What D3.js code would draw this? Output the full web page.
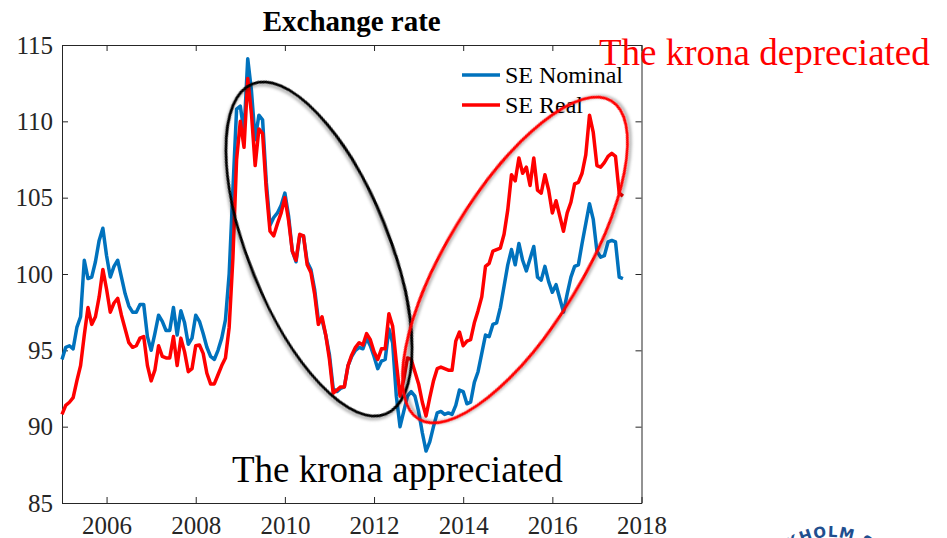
<!DOCTYPE html>
<html>
<head>
<meta charset="utf-8">
<script src="https://cdnjs.cloudflare.com/ajax/libs/d3/7.8.5/d3.min.js"></script>
<style>
  body { margin: 0; background: #fff; }
  text { font-family: "Liberation Serif", "Times New Roman", serif; }
</style>
</head>
<body>
<script>
//monthly index values, Jan 2005 - Aug 2017
var nominal = [
  94.4, 95.2, 95.3, 95.1, 96.5, 97.2, 100.9, 99.7, 99.8, 100.8, 102.2, 103.0,
  101.2, 99.8, 100.5, 100.9, 99.8, 98.7, 97.9, 97.5, 97.5, 98.0, 98.0, 95.9,
  95.0, 96.1, 97.3, 96.9, 96.3, 96.3, 97.8, 96.0, 97.6, 96.8, 95.4, 95.8,
  97.3, 96.9, 96.1, 95.2, 94.6, 94.4, 95.0, 95.8, 97.0, 100.0, 105.5, 110.8,
  111.0, 109.3, 114.1, 112.0, 108.8, 110.4, 110.1, 106.0, 103.2, 103.7, 104.0, 104.5,
  105.3, 103.8, 101.5, 100.8, 102.5, 102.5, 100.8, 100.3, 99.0, 97.0, 97.0, 96.0,
  94.7, 92.5, 92.3, 92.5, 92.6, 94.0, 94.6, 95.0, 95.2, 95.1, 95.8, 95.3,
  94.6, 93.8, 94.3, 94.4, 96.4, 95.5, 92.0, 90.0, 91.0, 92.0, 92.3, 92.0,
  91.0, 89.6, 88.4, 89.0, 90.0, 90.9, 91.0, 90.8, 90.9, 90.8, 91.4, 92.4,
  92.3, 91.5, 91.6, 92.9, 93.6, 94.8, 96.0, 95.9, 96.7, 96.8, 97.8, 99.2,
  100.6, 101.6, 100.6, 102.0, 100.9, 100.2, 101.0, 101.8, 99.8, 99.6, 100.5, 99.5,
  98.8, 99.3, 98.4, 97.5, 98.7, 99.8, 100.5, 100.6, 102.0, 103.3, 104.6, 103.6,
  101.5, 101.1, 101.2, 102.1, 102.2, 102.1, 99.8, 99.7
];
var real = [
  90.8, 91.4, 91.6, 91.9, 93.0, 94.0, 96.0, 97.8, 96.7, 97.2, 98.5, 100.3,
  99.0, 97.5, 98.1, 98.4, 97.3, 96.4, 95.5, 95.2, 95.3, 95.8, 95.9, 94.0,
  93.0, 93.7, 95.3, 94.6, 94.5, 94.5, 95.9, 94.0, 95.8, 94.9, 93.6, 93.8,
  95.3, 95.35, 94.8, 93.5, 92.8, 92.8, 93.4, 94.0, 94.5, 96.5, 101.0, 107.5,
  110.0, 108.3, 112.8, 110.5, 107.1, 109.5, 109.2, 105.5, 102.8, 102.5, 103.3, 104.0,
  105.0, 103.5, 101.5, 100.9, 102.6, 102.5, 100.6, 100.1, 98.7, 96.7, 97.2, 96.0,
  94.4, 92.2, 92.4, 92.6, 92.6, 94.0, 94.7, 95.2, 95.5, 95.35, 96.1, 95.7,
  94.9, 94.4, 95.1, 95.1, 97.4, 96.6, 94.2, 92.0, 93.1, 94.5, 94.4, 93.6,
  92.8, 91.6, 90.7, 91.9, 93.0, 93.8, 93.9, 93.8, 93.7, 93.7, 95.6, 96.2,
  95.3, 95.6, 95.7, 96.8, 97.6, 98.5, 100.5, 100.7, 101.5, 101.6, 101.7, 102.6,
  104.2, 106.5, 106.1, 107.6, 106.6, 107.0, 105.8, 107.6, 105.5, 105.3, 106.5, 105.5,
  104.0, 104.8, 103.8, 102.8, 104.0, 104.7, 105.9, 106.0, 106.6, 107.8, 110.4, 109.3,
  107.1, 107.0, 107.3, 107.7, 107.9, 107.7, 105.3, 105.1
];
var startYear = 2005;
var xTicks = [2006, 2008, 2010, 2012, 2014, 2016, 2018];
var yTicks = [85, 90, 95, 100, 105, 110, 115];
var seriesNames = ['SE Nominal', 'SE Real'];
var seriesColors = ['#0072bd', '#ff0000'];

var width = 947, height = 538;
//plot box (not named top/left: those clash with window globals)
var mLeft = 62, mRight = 641.5, mTop = 45, mBottom = 503;

var svg = d3.select('body').append('svg')
  .attr('width', width)
  .attr('height', height);

//soft shadow for the hand-drawn ellipses
var defs = svg.append('defs');
var f = defs.append('filter').attr('id', 'shadow')
  .attr('x', '-20%').attr('y', '-20%').attr('width', '140%').attr('height', '140%');
f.append('feDropShadow')
  .attr('dx', 2).attr('dy', 2)
  .attr('stdDeviation', 1.5)
  .attr('flood-color', '#000')
  .attr('flood-opacity', 0.35);

var x = d3.scaleLinear().domain([2005, 2018]).range([mLeft, mRight]);
var y = d3.scaleLinear().domain([85, 115]).range([mBottom, mTop]);

//box with inward ticks on all sides
var axisColor = '#262626';
svg.append('g')
  .attr('transform', 'translate(0,' + mBottom + ')')
  .call(d3.axisBottom(x).tickValues(xTicks).tickSizeInner(-6).tickSizeOuter(0).tickPadding(13).tickFormat(d3.format('d')));
svg.append('g')
  .attr('transform', 'translate(0,' + mTop + ')')
  .call(d3.axisTop(x).tickValues(xTicks).tickSizeInner(-6).tickSizeOuter(0).tickFormat(''));
svg.append('g')
  .attr('transform', 'translate(' + mLeft + ',0)')
  .call(d3.axisLeft(y).tickValues(yTicks).tickSizeInner(-6).tickSizeOuter(0).tickPadding(9));
svg.append('g')
  .attr('transform', 'translate(' + mRight + ',0)')
  .call(d3.axisRight(y).tickValues(yTicks).tickSizeInner(-6).tickSizeOuter(0).tickFormat(''));

svg.selectAll('.domain').attr('stroke', axisColor).attr('stroke-width', 1);
svg.selectAll('.tick line').attr('stroke', axisColor).attr('stroke-width', 1);
svg.selectAll('.tick text')
  .attr('fill', axisColor)
  .style('font-family', '"Liberation Serif", serif')
  .style('font-size', '25px');

//title
svg.append('text')
  .attr('x', (mLeft + mRight) / 2)
  .attr('y', 31)
  .attr('text-anchor', 'middle')
  .style('font-size', '29px')
  .style('font-weight', 'bold')
  .text('Exchange rate');

//lines
var line = d3.line()
  .x(function(d, i) { return x(startYear + i / 12); })
  .y(function(d) { return y(d); });

[nominal, real].forEach(function(s, k) {
  svg.append('path')
    .datum(s)
    .attr('d', line)
    .attr('fill', 'none')
    .attr('stroke', seriesColors[k])
    .attr('stroke-width', 3.5)
    .attr('stroke-linejoin', 'round');
});

//legend
seriesNames.forEach(function(name, k) {
  var ly = 75 + k * 30;
  svg.append('line')
    .attr('x1', 462).attr('x2', 500)
    .attr('y1', ly).attr('y2', ly)
    .attr('stroke', seriesColors[k])
    .attr('stroke-width', 3.5);
  svg.append('text')
    .attr('x', 505).attr('y', ly + 8)
    .style('font-size', '24px')
    .attr('fill', '#000')
    .text(name);
});

//annotation ellipses
svg.append('ellipse')
  .attr('cx', 319).attr('cy', 249)
  .attr('rx', 178).attr('ry', 70)
  .attr('transform', 'rotate(68,319,249)')
  .attr('fill', 'none')
  .attr('stroke', '#000')
  .attr('stroke-width', 2.8)
  .attr('filter', 'url(#shadow)');

svg.append('ellipse')
  .attr('cx', 515).attr('cy', 260)
  .attr('rx', 186).attr('ry', 68)
  .attr('transform', 'rotate(-58.8,515,260)')
  .attr('fill', 'none')
  .attr('stroke', '#ff0000')
  .attr('stroke-width', 2.8)
  .attr('filter', 'url(#shadow)');

//annotation texts
svg.append('text')
  .attr('x', 599).attr('y', 65)
  .attr('fill', '#ff0000')
  .style('font-size', '37px')
  .text('The krona depreciated');

svg.append('text')
  .attr('x', 232).attr('y', 482)
  .attr('fill', '#000')
  .style('font-size', '37px')
  .text('The krona appreciated');

//corner of a logo, cut by the frame
svg.append('path')
  .attr('id', 'logoArc')
  .attr('d', 'M 760,607 A 70,70 0 0 1 900,607')
  .attr('fill', 'none');
svg.append('text')
  .style('font-family', '"DejaVu Sans", sans-serif')
  .style('font-size', '15px')
  .style('font-weight', 'bold')
  .attr('fill', '#1f4f8f')
  .append('textPath')
  .attr('href', '#logoArc')
  .attr('startOffset', '50%')
  .attr('text-anchor', 'middle')
  .attr('letter-spacing', 1)
  .text('KHOLM S');
</script>
</body>
</html>
